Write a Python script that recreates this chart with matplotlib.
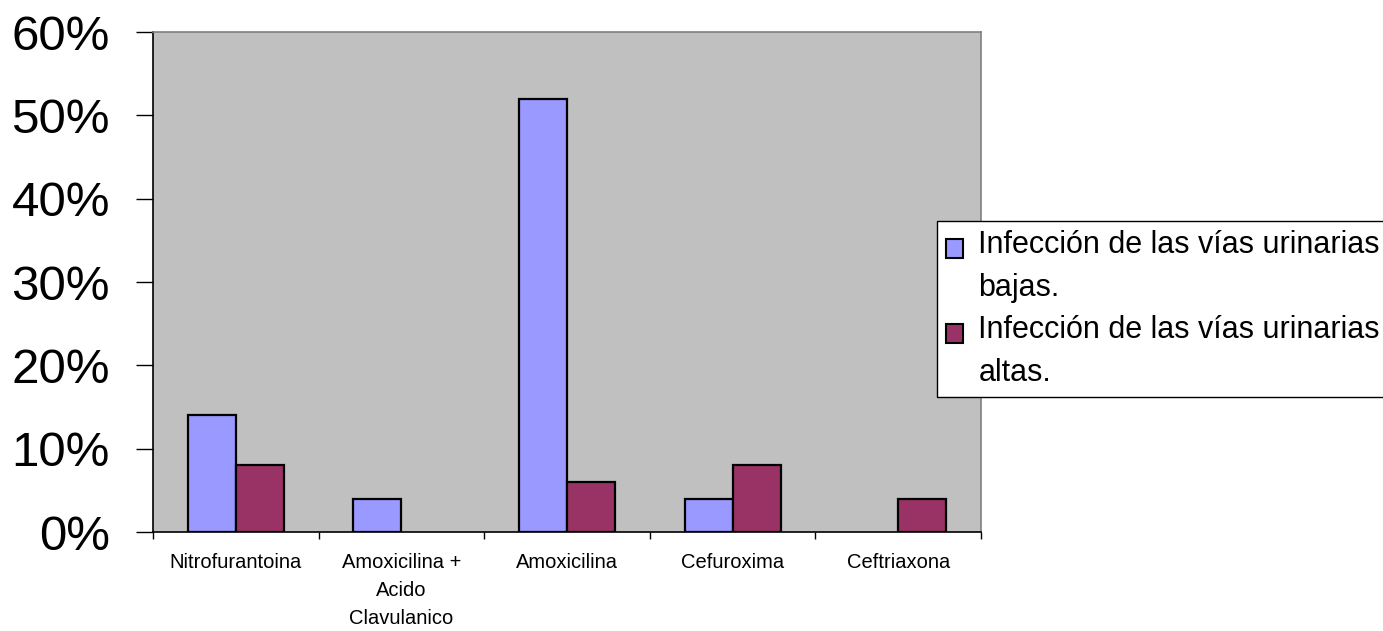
import matplotlib
matplotlib.use("Agg")
import matplotlib.pyplot as plt
import numpy as np
from matplotlib.patches import Patch, Rectangle
from matplotlib.legend_handler import HandlerPatch

categories = ["Nitrofurantoina", "Amoxicilina +\nAcido\nClavulanico", "Amoxicilina", "Cefuroxima", "Ceftriaxona"]
bajas = [14, 4, 52, 4, 0]
altas = [8, 0, 6, 8, 4]
series_labels = ["Infección de las vías urinarias\nbajas.", "Infección de las vías urinarias\naltas."]
yticks = [0, 10, 20, 30, 40, 50, 60]
ytick_labels = ["0%", "10%", "20%", "30%", "40%", "50%", "60%"]

blue = "#9999FF"
red = "#993366"

plt.rcParams['font.family'] = ['Liberation Sans', 'DejaVu Sans']

W, H = 1383, 631
fig = plt.figure(figsize=(W/100, H/100), dpi=100)
ax = fig.add_axes([153/W, 1-532/H, (981-153)/W, (532-32)/H])
ax.set_facecolor("#C0C0C0")

x = np.arange(len(categories))
bw = 0.29
b_vals = np.array(bajas, dtype=float)
a_vals = np.array(altas, dtype=float)
mb = b_vals > 0
ma = a_vals > 0
ax.bar(x[mb] - bw/2, b_vals[mb], bw, color=blue, edgecolor="black", linewidth=1.6, zorder=3)
ax.bar(x[ma] + bw/2, a_vals[ma], bw, color=red, edgecolor="black", linewidth=1.6, zorder=3)

ax.set_xlim(-0.5, len(categories) - 0.5)
ax.set_ylim(0, 60)
ax.set_yticks(yticks)
ax.set_yticklabels(ytick_labels, fontsize=35.5)
ax.tick_params(axis='y', direction='out', length=12, width=1, pad=19)

ax.set_xticks(x)
ax.set_xticklabels(categories, fontsize=14.5, linespacing=1.62)
ax.tick_params(axis='x', which='major', length=0, pad=15)
ax.set_xticks(np.arange(len(categories) + 1) - 0.5, minor=True)
ax.tick_params(axis='x', which='minor', direction='out', length=5, width=1)

ax.spines['left'].set_color('black')
ax.spines['bottom'].set_color('black')
ax.spines['top'].set_color('#808080')
ax.spines['right'].set_color('#808080')
for s in ax.spines.values():
    s.set_linewidth(1.2)

def top_patch(legend, orig_handle, xdescent, ydescent, width, height, fontsize):
    shift = 13.5
    return Rectangle((-xdescent, -ydescent + shift), width, height)

handles = [Patch(facecolor=blue, edgecolor='black', linewidth=1.5),
           Patch(facecolor=red, edgecolor='black', linewidth=1.5)]
leg = fig.legend(handles, series_labels, loc='upper left',
                 bbox_to_anchor=(937/W, 1-221/H), bbox_transform=fig.transFigure,
                 fontsize=22, frameon=True, fancybox=False, borderaxespad=0,
                 handlelength=0.55, handleheight=0.55, handletextpad=0.5,
                 borderpad=0.3, labelspacing=0.4, framealpha=1,
                 handler_map={Patch: HandlerPatch(patch_func=top_patch)})
leg.get_frame().set_edgecolor('black')
leg.get_frame().set_facecolor('white')
leg.get_frame().set_linewidth(1.0)
for t in leg.get_texts():
    t.set_linespacing(1.55)

fig.savefig("out.png", dpi=100)
